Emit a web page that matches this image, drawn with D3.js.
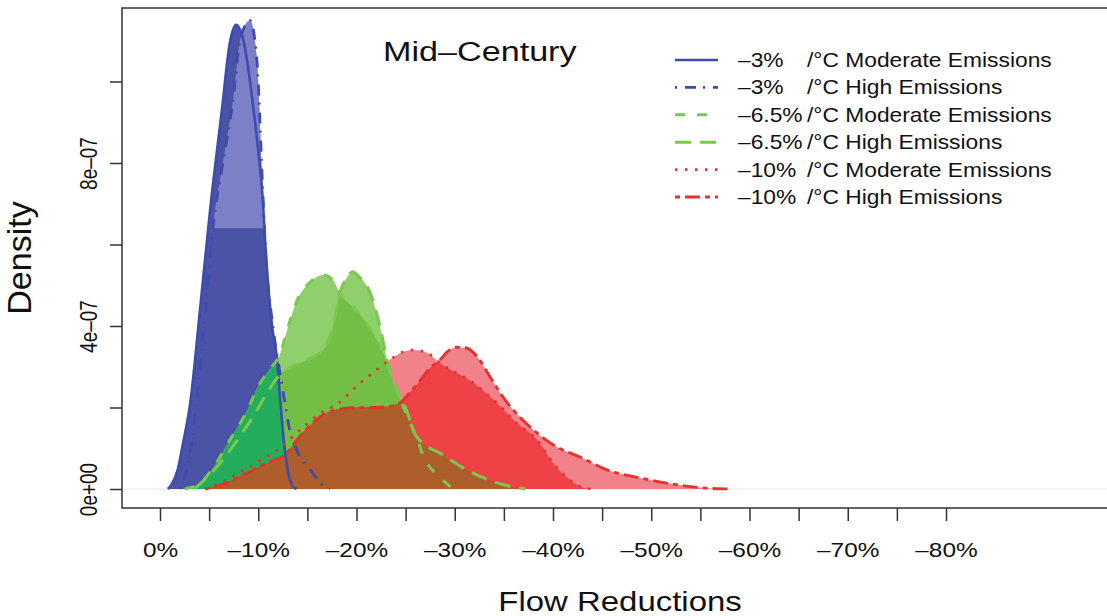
<!DOCTYPE html>
<html>
<head>
<meta charset="utf-8">
<script src="https://cdn.jsdelivr.net/npm/d3@7"></script>
<style>
  body { margin: 0; background: #fff; }
  svg { display: block; }
  text { font-family: "Liberation Sans", Arial, Helvetica, sans-serif; fill: #111; }
</style>
</head>
<body>
<svg id="chart" width="1107" height="616"></svg>
<script>
// density curves: [flow reduction in %, density in 1e-07]
const blueModerate = [[0.8,0],[1.2,0.12],[1.8,0.47],[2.35,1.13],[3.05,2.06],[4.07,4.39],[5.1,6.85],[6.3,9.3],[7.1,10.94],[7.74,11.39],[8.5,11.0],[9.4,9.55],[10.0,8.3],[10.4,7.3],[10.8,5.7],[11.4,4.0],[11.9,3.2],[12.2,2.3],[12.6,1.2],[13.0,0.47],[13.5,0.07],[13.9,0]];
const blueHigh = [[2.0,0],[3.0,0.8],[4.0,2.8],[4.7,4.6],[5.4,6.43],[6.4,8.0],[7.43,9.55],[8.14,11.0],[9.16,11.5],[9.87,10.5],[10.4,7.66],[10.7,6.04],[11.5,3.98],[12.0,3.17],[12.5,2.43],[13.2,1.45],[13.9,0.96],[15.3,0.47],[16.8,0.05],[17.3,0]];
const greenModerate = [[2.5,0],[4.1,0.15],[5.6,0.59],[7.1,1.2],[8.65,1.82],[10.2,2.6],[11.2,2.95],[12.2,3.3],[13.0,3.95],[13.9,4.6],[15.3,5.08],[16.6,5.25],[17.6,5.13],[18.3,4.81],[20.4,4.27],[22.7,3.34],[23.9,2.55],[24.9,1.94],[26.0,1.33],[27.0,0.71],[28.5,0.29],[29.8,0]];
const greenHigh = [[3.5,0],[6.0,0.6],[9.0,1.6],[12.2,2.8],[15.0,3.17],[16.6,3.41],[17.6,3.98],[18.3,4.81],[19.0,5.18],[19.6,5.33],[20.3,5.2],[21.4,4.81],[22.4,3.98],[23.1,3.17],[24.4,2.26],[25.1,1.94],[25.75,1.45],[27.0,1.08],[28.5,0.88],[31.2,0.47],[34.3,0.15],[36.6,0.02],[37.2,0]];
const redModerate = [[4.6,0],[6.1,0.15],[8.1,0.4],[10.2,0.7],[12.2,1.0],[14.25,1.45],[16.3,1.85],[18.3,2.13],[20.05,2.53],[21.9,2.9],[23.4,3.17],[24.7,3.36],[25.75,3.41],[27.2,3.34],[28.5,3.09],[31.9,2.6],[34.3,2.11],[36.3,1.62],[38.4,1.2],[40.0,0.64],[41.4,0.29],[42.7,0.07],[44.0,0]];
const redHigh = [[4.6,0],[6.8,0.15],[8.85,0.39],[10.9,0.64],[12.9,0.88],[13.9,1.2],[15.3,1.57],[17.0,1.87],[19.3,1.99],[22.7,2.01],[24.4,2.11],[25.4,2.36],[26.5,2.67],[27.5,2.97],[28.5,3.17],[29.2,3.36],[30.2,3.48],[31.2,3.46],[32.3,3.24],[33.6,2.75],[34.9,2.26],[36.6,1.77],[38.4,1.37],[40.4,1.03],[42.7,0.79],[45.5,0.47],[48.9,0.27],[52.2,0.12],[55.7,0.02],[58.0,0]];

const xTicks = [0,5,10,15,20,25,30,35,40,45,50,55,60,65,70,75,80];
const xLabelValues = [0,10,20,30,40,50,60,70,80];
const xLabelText = ['0%','–10%','–20%','–30%','–40%','–50%','–60%','–70%','–80%'];
const yTicks = [0,2,4,6,8,10];
const yLabelValues = [0,4,8];
const yLabelText = ['0e+00','4e–07','8e–07'];

const legendPct = ['–3%','–3%','–6.5%','–6.5%','–10%','–10%'];
const legendScenario = ['Moderate Emissions','High Emissions','Moderate Emissions','High Emissions','Moderate Emissions','High Emissions'];

const W = 1107, H = 616;
const stretch = 1.22; // the figure is a bit wider than tall, text included
const svg = d3.select('#chart');

const x = d3.scaleLinear().domain([0, 80]).range([160, 946]);
const y = d3.scaleLinear().domain([0, 10]).range([489, 81.5]);

const area = d3.area().x(d => x(d[0])).y0(y(0)).y1(d => y(d[1])).curve(d3.curveMonotoneX);
const line = d3.line().x(d => x(d[0])).y(d => y(d[1])).curve(d3.curveMonotoneX);

const col = {
  lightBlue: '#7c80c6', darkBlue: '#4a53a6',
  lightGreen: '#8fcf6c', medGreen: '#73bf45', teal: '#24ad5c',
  lightRed: '#f2828a', medRed: '#ee4247', brown: '#ad5e2a',
  blueLine: '#3d4caf', greenLine: '#7ac84e', redLine: '#e8302e'
};

// clip shapes used to colour the overlaps
const defs = svg.append('defs');
[['clip-bm', blueModerate], ['clip-gm', greenModerate], ['clip-gh', greenHigh], ['clip-rm', redModerate]]
  .forEach(([id, data]) => defs.append('clipPath').attr('id', id).append('path').attr('d', area(data)));
// the pale part of the high-emission blue only shows above this level
defs.append('clipPath').attr('id', 'clip-top')
  .append('rect').attr('x', 0).attr('y', 0).attr('width', W).attr('height', y(6.4));

// zero line
svg.append('line').attr('x1', 122).attr('x2', W).attr('y1', y(0)).attr('y2', y(0))
  .attr('stroke', '#e4e4e4').attr('stroke-width', 1);

const fills = svg.append('g');
const paint = (data, color, clip) => fills.append('path')
  .attr('d', area(data)).attr('fill', color)
  .attr('clip-path', clip ? `url(#${clip})` : null);

paint(blueHigh, col.lightBlue);
paint(blueModerate, col.darkBlue);
paint(blueHigh, col.lightBlue, 'clip-top');
paint(redModerate, col.lightRed);
paint(greenModerate, col.lightGreen);
paint(greenHigh, col.lightGreen);
paint(greenHigh, col.medGreen, 'clip-gm');
paint(greenModerate, col.teal, 'clip-bm');
paint(greenHigh, col.teal, 'clip-bm');
paint(redHigh, col.lightRed);
paint(redHigh, col.medRed, 'clip-rm');
paint(redHigh, col.brown, 'clip-gm');
paint(redHigh, col.brown, 'clip-gh');

const series = [
  { data: blueModerate, color: col.blueLine, dash: null, width: 2.6 },
  { data: blueHigh, color: col.blueLine, dash: '2,8,11,7', width: 2.8 },
  { data: greenModerate, color: col.greenLine, dash: '10,12', width: 3 },
  { data: greenHigh, color: col.greenLine, dash: '16,9', width: 3 },
  { data: redModerate, color: col.redLine, dash: '2.5,7.5', width: 2.6 },
  { data: redHigh, color: col.redLine, dash: '5,5,15,5', width: 2.8 }
];

svg.append('g').attr('fill', 'none')
  .selectAll('path')
  .data(series)
  .join('path')
  .attr('d', d => line(d.data))
  .attr('stroke', d => d.color)
  .attr('stroke-width', d => d.width)
  .attr('stroke-dasharray', d => d.dash)
  .attr('stroke-linejoin', 'round');

// frame (right side runs off the picture)
svg.append('path')
  .attr('d', `M${W},8H122V508H${W}`)
  .attr('fill', 'none').attr('stroke', '#333').attr('stroke-width', 1.5);

// x axis
const xAxis = svg.append('g')
  .attr('transform', 'translate(0,508)')
  .call(d3.axisBottom(x).tickValues(xTicks).tickSize(13)
    .tickFormat(d => { const i = xLabelValues.indexOf(d); return i < 0 ? '' : xLabelText[i]; }));
xAxis.select('.domain').remove();
xAxis.selectAll('.tick line').attr('stroke', '#333').attr('stroke-width', 1.5);
xAxis.selectAll('.tick text')
  .attr('y', 0).attr('dy', 0)
  .attr('transform', `translate(0,49) scale(${stretch},1)`)
  .style('font-size', '20px').attr('fill', '#111');

// y axis
const yAxis = svg.append('g')
  .attr('transform', 'translate(122,0)')
  .call(d3.axisLeft(y).tickValues(yTicks).tickSize(12)
    .tickFormat(d => { const i = yLabelValues.indexOf(d); return i < 0 ? '' : yLabelText[i]; }));
yAxis.select('.domain').remove();
yAxis.selectAll('.tick line').attr('stroke', '#333').attr('stroke-width', 1.5);
yAxis.selectAll('.tick text')
  .attr('x', 0).attr('y', 0).attr('dy', 0)
  .attr('text-anchor', 'middle')
  .attr('transform', `translate(-25,0) scale(${stretch},1) rotate(-90)`)
  .style('font-size', '19px').attr('fill', '#111');

// titles
svg.append('text')
  .attr('transform', `translate(383,61) scale(${stretch},1)`)
  .style('font-size', '28px').text('Mid–Century');

svg.append('text')
  .attr('transform', `translate(620,611) scale(${stretch},1)`)
  .attr('text-anchor', 'middle')
  .style('font-size', '27px').text('Flow Reductions');

svg.append('text')
  .attr('transform', 'translate(31,258) rotate(-90)')
  .attr('text-anchor', 'middle')
  .style('font-size', '34px').text('Density');

// legend
const rowY = i => 60 + i * 27.4;
const legend = svg.append('g');
legend.selectAll('line')
  .data(series)
  .join('line')
  .attr('x1', 675).attr('x2', 718)
  .attr('y1', (d, i) => rowY(i)).attr('y2', (d, i) => rowY(i))
  .attr('stroke', d => d.color)
  .attr('stroke-width', d => d.width)
  .attr('stroke-dasharray', d => d.dash);

legend.selectAll('text.pct')
  .data(legendPct)
  .join('text')
  .attr('class', 'pct')
  .attr('transform', (d, i) => `translate(738,${rowY(i) + 7}) scale(1.14,1)`)
  .style('font-size', '20px')
  .text(d => d);

legend.selectAll('text.scn')
  .data(legendScenario)
  .join('text')
  .attr('class', 'scn')
  .attr('transform', (d, i) => `translate(807,${rowY(i) + 7}) scale(1.14,1)`)
  .style('font-size', '20px')
  .text(d => '/°C ' + d);
</script>
</body>
</html>
